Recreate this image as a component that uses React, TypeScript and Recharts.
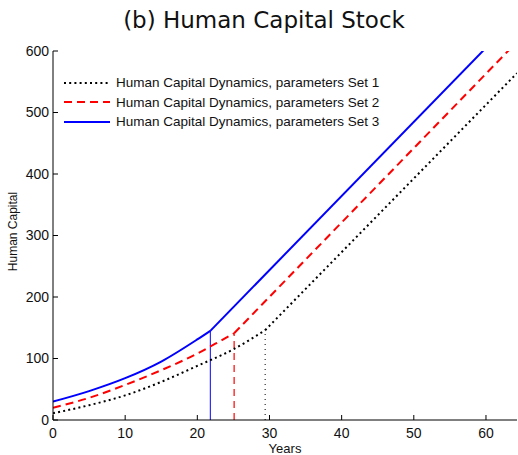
import React from 'react';
import { LineChart, Line, XAxis, YAxis, ReferenceLine, Legend } from 'recharts';

// Axis ticks
const xTicks = [0, 10, 20, 30, 40, 50, 60];
const yTicks = [0, 100, 200, 300, 400, 500, 600];
const xMax = 64.3;

// Series names
const seriesNames = [
  'Human Capital Dynamics, parameters Set 1',
  'Human Capital Dynamics, parameters Set 2',
  'Human Capital Dynamics, parameters Set 3',
];

// Set 1: accumulation phase, then linear phase after the switch year
const set1CurveYears = [0, 5, 10, 15, 20, 25, 29.4];
const set1CurveValues = [11, 24, 40, 62, 88, 115, 146];
const set1LineYears = [29.4, 64.3];
const set1LineValues = [146, 564];

// Set 2
const set2CurveYears = [0, 5, 10, 15, 20, 22.5, 25.1];
const set2CurveValues = [20, 36, 57, 81, 108, 124, 141];
const set2LineYears = [25.1, 64.3];
const set2LineValues = [141, 615];

// Set 3
const set3CurveYears = [0, 5, 10, 15, 20, 21.8];
const set3CurveValues = [30, 47, 68, 95, 131, 145];
const set3LineYears = [21.8, 64.3];
const set3LineValues = [145, 657];

// Switch years (vertical markers) and their capital level
const switchYears = [29.4, 25.1, 21.8];
const switchValues = [146, 141, 145];

const toPoints = (xs: number[], ys: number[]) => xs.map((x, i) => ({ x, y: ys[i] }));

const styles = [
  { color: '#000000', width: 2, dash: '2 3.2', markerWidth: 1, markerDash: '1 4' },
  { color: '#ff0000', width: 2, dash: '8 5', markerWidth: 1.2, markerDash: '7 5' },
  { color: '#0000ff', width: 2, dash: undefined as string | undefined, markerWidth: 1, markerDash: undefined as string | undefined },
];

const curves = [
  toPoints(set1CurveYears, set1CurveValues),
  toPoints(set2CurveYears, set2CurveValues),
  toPoints(set3CurveYears, set3CurveValues),
];
const lines = [
  toPoints(set1LineYears, set1LineValues),
  toPoints(set2LineYears, set2LineValues),
  toPoints(set3LineYears, set3LineValues),
];

const font = '"Liberation Sans", Arial, sans-serif';

const renderLegend = () => (
  <div style={{ fontFamily: font, fontSize: 13.5, color: '#111', lineHeight: '19.5px' }}>
    {seriesNames.map((name, i) => (
      <div key={name} style={{ display: 'flex', alignItems: 'center', height: 19.5, whiteSpace: 'nowrap' }}>
        <svg width={46} height={10} style={{ marginRight: 6 }}>
          <line
            x1={0}
            x2={46}
            y1={5}
            y2={5}
            stroke={styles[i].color}
            strokeWidth={styles[i].width}
            strokeDasharray={styles[i].dash}
          />
        </svg>
        <span>{name}</span>
      </div>
    ))}
  </div>
);

export default function App() {
  return (
    <div style={{ position: 'absolute', left: 0, top: 0, width: 518, height: 455, background: '#fff' }}>
      <div
        style={{
          position: 'absolute',
          left: 0,
          top: 8,
          width: 518,
          textAlign: 'center',
          fontFamily: '"DejaVu Sans", sans-serif',
          fontSize: 23,
          lineHeight: '24px',
          color: '#111',
          paddingLeft: 10,
          boxSizing: 'border-box',
        }}
      >
        (b) Human Capital Stock
      </div>
      <div style={{ position: 'absolute', left: 0, top: 0 }}>
        <LineChart width={518} height={455} margin={{ top: 51, right: 1, bottom: 0, left: 8 }}>
          <XAxis
            type="number"
            dataKey="x"
            domain={[0, xMax]}
            ticks={xTicks}
            allowDataOverflow
            height={35}
            tickSize={-5}
            tickMargin={13}
            stroke="#000"
            tick={{ fill: '#111', fontSize: 14, fontFamily: font }}
            label={{ value: 'Years', position: 'insideBottom', offset: 2, fill: '#111', fontSize: 13, fontFamily: font }}
          />
          <XAxis
            xAxisId="top"
            orientation="top"
            type="number"
            dataKey="x"
            domain={[0, xMax]}
            ticks={xTicks}
            allowDataOverflow
            height={0}
            tickSize={-5}
            tickFormatter={() => ''}
            stroke="#000"
          />
          <YAxis
            type="number"
            domain={[0, 600]}
            ticks={yTicks}
            allowDataOverflow
            width={45}
            tickSize={-5}
            tickMargin={9}
            stroke="#000"
            tick={{ fill: '#111', fontSize: 14, fontFamily: font }}
            label={{
              value: 'Human Capital',
              angle: -90,
              position: 'insideLeft',
              offset: 5,
              textAnchor: 'middle',
              fill: '#111',
              fontSize: 12,
              fontFamily: font,
              dy: -4,
            }}
          />
          <YAxis
            yAxisId="right"
            orientation="right"
            type="number"
            domain={[0, 600]}
            ticks={yTicks}
            allowDataOverflow
            width={0}
            tickSize={-5}
            tickFormatter={() => ''}
            stroke="#000"
          />
          {switchYears.map((yr, i) => (
            <ReferenceLine
              key={`switch-${i}`}
              segment={[
                { x: yr, y: 0 },
                { x: yr, y: switchValues[i] },
              ]}
              stroke={styles[i].color}
              strokeWidth={styles[i].markerWidth}
              strokeDasharray={styles[i].markerDash}
            />
          ))}
          {curves.map((data, i) => (
            <Line
              key={`curve-${i}`}
              data={data}
              dataKey="y"
              type="monotone"
              stroke={styles[i].color}
              strokeWidth={styles[i].width}
              strokeDasharray={styles[i].dash}
              dot={false}
              activeDot={false}
              isAnimationActive={false}
              legendType="none"
            />
          ))}
          {lines.map((data, i) => (
            <Line
              key={`line-${i}`}
              data={data}
              dataKey="y"
              type="linear"
              stroke={styles[i].color}
              strokeWidth={styles[i].width}
              strokeDasharray={styles[i].dash}
              dot={false}
              activeDot={false}
              isAnimationActive={false}
              legendType="none"
            />
          ))}
          <Legend
            layout="vertical"
            align="center"
            verticalAlign="middle"
            content={renderLegend}
            wrapperStyle={{ left: 64, top: 73, width: 'auto' }}
          />
        </LineChart>
      </div>
    </div>
  );
}
